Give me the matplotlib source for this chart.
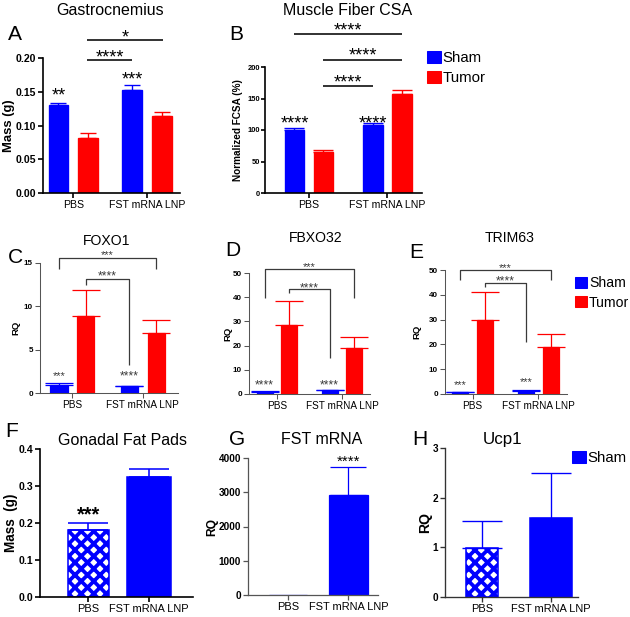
import numpy as np
import matplotlib
matplotlib.use("Agg")
import matplotlib.pyplot as plt
from matplotlib.patches import Patch
from matplotlib.ticker import FormatStrFormatter

plt.rcParams['font.family'] = ['Liberation Sans', 'DejaVu Sans']
plt.rcParams['hatch.linewidth'] = 3.6

# ---- data ----
groups = ['PBS', 'FST mRNA LNP']

gastro_sham = [0.130, 0.153]
gastro_sham_err = [0.0036, 0.007]
gastro_tumor = [0.082, 0.114]
gastro_tumor_err = [0.0074, 0.0063]

csa_sham = [100, 108]
csa_sham_err = [3.5, 3]
csa_tumor = [65.5, 156.7]
csa_tumor_err = [3, 6.8]

foxo1_sham = [0.92, 0.8]
foxo1_sham_err = [0.18, 0.05]
foxo1_tumor = [8.92, 6.9]
foxo1_tumor_err = [2.95, 1.52]

fbxo32_sham = [0.9, 1.5]
fbxo32_sham_err = [0.2, 0.3]
fbxo32_tumor = [28.5, 18.9]
fbxo32_tumor_err = [9.9, 4.8]

trim63_sham = [0.8, 1.2]
trim63_sham_err = [0.2, 0.3]
trim63_tumor = [29.8, 18.8]
trim63_tumor_err = [11.2, 5.3]

fat_pads = [0.181, 0.325]
fat_pads_err = [0.02, 0.02]

fst_mrna = [1.0, 2920]
fst_mrna_err = [0, 808]

ucp1 = [0.993, 1.6]
ucp1_err = [0.54, 0.9]

BLUE = '#0000FF'
RED = '#FF0000'
W, H = 630, 617
DPI = 75
PT = 72 / DPI   # px -> pt

fig = plt.figure(figsize=(W / DPI, H / DPI), dpi=DPI)


def add_ax(x0, y0, x1, y1):
    return fig.add_axes([x0 / W, 1 - y1 / H, (x1 - x0) / W, (y1 - y0) / H])


def ftext(x, y, s, size, **kw):
    # y = centre of capital letters (px from top)
    fig.text(x / W, 1 - (y + 0.36 * size) / H, s, fontsize=size * PT,
             ha=kw.pop('ha', 'center'), va='baseline', **kw)


def style(ax, xlim, ylim, yticks, ytick_px, xtick_px, lw, color, ylabel, ylabel_px, labelx, fmt=None):
    ax.set_xlim(*xlim)
    ax.set_ylim(*ylim)
    for s in ['top', 'right']:
        ax.spines[s].set_visible(False)
    for s in ['left', 'bottom']:
        ax.spines[s].set_linewidth(lw)
        ax.spines[s].set_color(color)
    ax.set_yticks(yticks)
    if fmt:
        ax.yaxis.set_major_formatter(FormatStrFormatter(fmt))
    ax.set_xticks([0, 1])
    ax.set_xticklabels(groups)
    ax.tick_params(axis='both', width=lw, length=5 * PT, color=color, pad=2)
    for t in ax.get_yticklabels():
        t.set_fontsize(ytick_px * PT)
        t.set_fontweight('bold')
    for t in ax.get_xticklabels():
        t.set_fontsize(xtick_px * PT)
    ax.set_ylabel(ylabel, fontsize=ylabel_px * PT, fontweight='bold')
    ax.yaxis.set_label_coords(labelx, 0.5)


def err(ax, x, y, e, color, cap_px, lw):
    ax.errorbar(x, y, yerr=[np.zeros(len(y)), e], fmt='none', ecolor=color,
                elinewidth=lw, capsize=cap_px * PT, capthick=lw, clip_on=False)


def grouped(ax, sham, sham_e, tumor, tumor_e, off, width, cap_px, lw):
    x = np.arange(2)
    ax.bar(x - off, sham, width, color=BLUE, edgecolor=BLUE, linewidth=lw)
    ax.bar(x + off, tumor, width, color=RED, edgecolor=RED, linewidth=lw)
    err(ax, x - off, sham, sham_e, BLUE, cap_px, lw)
    err(ax, x + off, tumor, tumor_e, RED, cap_px, lw)


def stars(ax, x, yc, s, size, color='black', weight='normal'):
    ax.annotate(s, xy=(x, yc), xytext=(0, -0.57 * size * PT), textcoords='offset points',
                ha='center', va='baseline', fontsize=size * PT, color=color,
                fontweight=weight, annotation_clip=False)


def line(ax, xs, ys, color='black', lw=1.5):
    ax.plot(xs, ys, color=color, lw=lw, clip_on=False, solid_capstyle='butt')


# ---------------- A ----------------
axA = add_ax(43, 58, 180, 193)
grouped(axA, gastro_sham, gastro_sham_err, gastro_tumor, gastro_tumor_err, 0.2, 0.27, 8, 1.3)
style(axA, (-0.41, 1.45), (0, 0.2), np.arange(0, 0.21, 0.05), 10.5, 10.5, 1.6, 'black',
      'Mass (g)', 13, -0.204, '%.2f')
stars(axA, -0.2, 0.1526, '**', 18)
stars(axA, 0.8, 0.1763, '***', 18)
line(axA, [0.19, 0.80], [0.197, 0.197])
stars(axA, 0.5, 0.209, '****', 18)
line(axA, [0.19, 1.22], [0.2267, 0.2267])
stars(axA, 0.7, 0.2385, '*', 18)
ftext(110, 9, 'Gastrocnemius', 16)
ftext(15, 32, 'A', 21)

# ---------------- B ----------------
axB = add_ax(265, 67, 422, 193)
grouped(axB, csa_sham, csa_sham_err, csa_tumor, csa_tumor_err, 0.185, 0.25, 10, 1.3)
style(axB, (-0.56, 1.44), (0, 200), np.arange(0, 201, 50), 7.5, 10.5, 1.6, 'black',
      'Normalized FCSA (%)', 10, -0.14)
axB.tick_params(axis='y', length=4 * PT, pad=1)
stars(axB, -0.185, 119, '****', 18)
stars(axB, 0.815, 119, '****', 18)
line(axB, [0.185, 0.815], [170, 170])
stars(axB, 0.5, 184, '****', 18)
line(axB, [0.185, 1.185], [211, 211])
stars(axB, 0.685, 227, '****', 18)
line(axB, [-0.185, 1.185], [252, 252])
stars(axB, 0.5, 267, '****', 18)
ftext(348, 9, 'Muscle Fiber CSA', 16)
ftext(236, 32, 'B', 21)
fig.legend(handles=[Patch(color=BLUE), Patch(color=RED)], labels=['Sham', 'Tumor'],
           loc='upper left', bbox_to_anchor=(427 / W, 1 - 51 / H), frameon=False,
           fontsize=15 * PT, handlelength=0.9, handleheight=0.9, handletextpad=0.15,
           labelspacing=0.35, borderpad=0, borderaxespad=0)

# ---------------- C, D, E ----------------
GRAY = '#3a3a3a'
row2 = [
    (40, 263, 178, 393, (-0.46, 1.5), (0, 15), np.arange(0, 16, 5), foxo1_sham, foxo1_sham_err,
     foxo1_tumor, foxo1_tumor_err, -0.145, 'FOXO1', 107, 240, 'C', 15, 255),
    (249, 273, 370, 394, (-0.43, 1.43), (0, 50), np.arange(0, 51, 10), fbxo32_sham, fbxo32_sham_err,
     fbxo32_tumor, fbxo32_tumor_err, -0.14, 'FBXO32', 316, 237, 'D', 233, 248),
    (445, 270, 567, 394, (-0.42, 1.44), (0, 50), np.arange(0, 51, 10), trim63_sham, trim63_sham_err,
     trim63_tumor, trim63_tumor_err, -0.19, 'TRIM63', 510, 237, 'E', 416, 250),
]
axes2 = []
for (x0, y0, x1, y1, xl, yl, yt, s, se, t, te, lx, title, tx, ty, let, lx2, ly2) in row2:
    ax = add_ax(x0, y0, x1, y1)
    grouped(ax, s, se, t, te, 0.19, 0.245, 14, 1.2)
    style(ax, xl, yl, yt, 8, 10, 1.0, '#555555', 'RQ', 9.5, lx)
    ftext(tx, ty, title, 14)
    ftext(lx2, ly2, let, 21)
    axes2.append(ax)

axC, axD, axE = axes2
# C brackets
stars(axC, -0.19, 2.3, '***', 11, GRAY)
stars(axC, 0.81, 2.3, '****', 12, GRAY)
line(axC, [-0.19, -0.19, 1.19, 1.19], [14.3, 15.6, 15.6, 14.3], GRAY, 1.2)
stars(axC, 0.5, 16.3, '***', 11, GRAY)
line(axC, [0.19, 0.19, 0.81, 0.81], [12.5, 13.15, 13.15, 3.2], GRAY, 1.2)
stars(axC, 0.5, 13.85, '****', 12, GRAY)
# D brackets
stars(axD, -0.19, 5.0, '****', 12, GRAY)
stars(axD, 0.81, 5.0, '****', 12, GRAY)
line(axD, [-0.19, -0.19, 1.19, 1.19], [39.7, 51.7, 51.7, 39.7], GRAY, 1.2)
stars(axD, 0.5, 53.7, '***', 11, GRAY)
line(axD, [0.19, 0.19, 0.81, 0.81], [41.7, 43.4, 43.4, 14.9], GRAY, 1.2)
stars(axD, 0.5, 45.3, '****', 12, GRAY)
# E brackets
stars(axE, -0.19, 4.8, '***', 11, GRAY)
stars(axE, 0.81, 6.0, '***', 11, GRAY)
line(axE, [-0.19, -0.19, 1.19, 1.19], [46, 50, 50, 46], GRAY, 1.2)
stars(axE, 0.5, 52, '***', 11, GRAY)
line(axE, [0.19, 0.19, 0.81, 0.81], [43.1, 44.8, 44.8, 21], GRAY, 1.2)
stars(axE, 0.5, 46.8, '****', 12, GRAY)
fig.legend(handles=[Patch(color=BLUE), Patch(color=RED)], labels=['Sham', 'Tumor'],
           loc='upper left', bbox_to_anchor=(575 / W, 1 - 276 / H), frameon=False,
           fontsize=14 * PT, handlelength=0.85, handleheight=0.85, handletextpad=0.15,
           labelspacing=0.4, borderpad=0, borderaxespad=0)

# ---------------- F ----------------
axF = add_ax(40, 449, 193, 597)
axF.bar([0], fat_pads[:1], 0.68, color='white', edgecolor=BLUE, hatch='xx', linewidth=1.5)
axF.bar([1], fat_pads[1:], 0.73, color=BLUE, edgecolor=BLUE, linewidth=1.5)
err(axF, [0, 1], fat_pads, fat_pads_err, BLUE, 20, 1.5)
style(axF, (-0.8, 1.73), (0, 0.4), np.arange(0, 0.41, 0.1), 10.5, 11, 1.6, 'black',
      'Mass  (g)', 13.5, -0.144, '%.1f')
stars(axF, 0, 0.238, '***', 20, weight='bold')
ftext(122, 439, 'Gonadal Fat Pads', 16)
ftext(12, 429, 'F', 21)

# ---------------- G ----------------
axG = add_ax(248, 458, 378, 595)
axG.bar([0, 1], fst_mrna, 0.64, color=BLUE, edgecolor=BLUE, linewidth=1.2)
err(axG, [1], fst_mrna[1:], fst_mrna_err[1:], BLUE, 18, 1.2)
style(axG, (-0.66, 1.49), (0, 4000), np.arange(0, 4001, 1000), 10, 11, 1.2, '#555555',
      'RQ', 12, -0.23)
stars(axG, 1, 4029, '****', 15)
ftext(322, 438, 'FST mRNA', 16)
ftext(237, 437, 'G', 21)

# ---------------- H ----------------
axH = add_ax(445, 448, 578, 597)
axH.bar([0], ucp1[:1], 0.46, color='white', edgecolor=BLUE, hatch='xx', linewidth=1.5)
axH.bar([1], ucp1[1:], 0.61, color=BLUE, edgecolor=BLUE, linewidth=1.5)
err(axH, [0, 1], ucp1, ucp1_err, BLUE, 20, 1.3)
style(axH, (-0.54, 1.39), (0, 3), np.arange(0, 4, 1), 10, 11, 1.3, '#333333', 'RQ', 14, -0.098)
ftext(503, 438, 'Ucp1', 17)
ftext(420, 437, 'H', 21)
fig.legend(handles=[Patch(color=BLUE)], labels=['Sham'],
           loc='upper left', bbox_to_anchor=(572 / W, 1 - 451 / H), frameon=False,
           fontsize=15 * PT, handlelength=0.9, handleheight=0.9, handletextpad=0.15,
           borderpad=0, borderaxespad=0)

fig.savefig('out.png', dpi=DPI)
